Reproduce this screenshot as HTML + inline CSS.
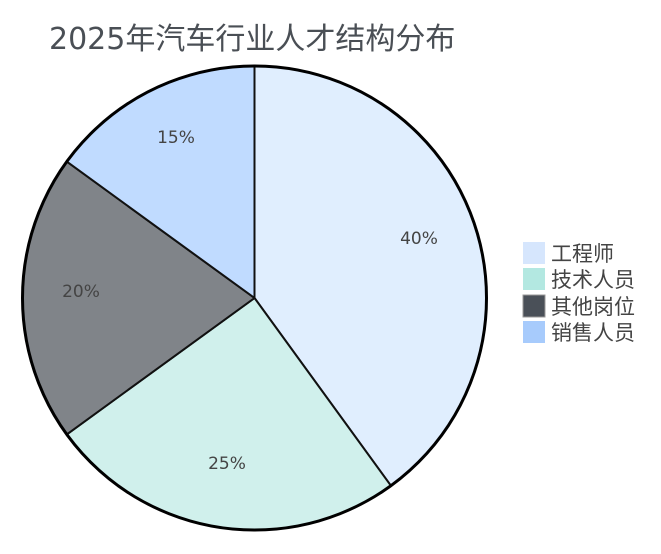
<!DOCTYPE html>
<html><head><meta charset="utf-8"><style>
body{margin:0;background:#fff;width:661px;height:549px;overflow:hidden}
</style></head><body>
<svg width="661" height="549" xmlns="http://www.w3.org/2000/svg" font-family="DejaVu Sans, Noto Sans CJK SC, sans-serif">
<text x="49" y="49" font-size="30" fill="#4a4f55">2025年汽车行业人才结构分布</text>
<g stroke="#111" stroke-width="2" stroke-linejoin="round">
<path d="M254.5,298 L254.5,66 A232,232 0 0,1 390.9,485.7 Z" fill="#e0eefe"/>
<path d="M254.5,298 L390.9,485.7 A232,232 0 0,1 66.8,434.4 Z" fill="#d0f0ec"/>
<path d="M254.5,298 L66.8,434.4 A232,232 0 0,1 66.8,161.6 Z" fill="#808489"/>
<path d="M254.5,298 L66.8,161.6 A232,232 0 0,1 254.5,66 Z" fill="#c0dbff"/>
</g>
<circle cx="254.5" cy="298" r="232" fill="none" stroke="#000" stroke-width="3"/>
<g font-size="17" fill="#444" text-anchor="middle">
<text x="419" y="244">40%</text>
<text x="227" y="469">25%</text>
<text x="81" y="297">20%</text>
<text x="176" y="143">15%</text>
</g>
<rect x="523" y="242" width="22" height="22" fill="#d6e6fd"/>
<rect x="523" y="268" width="22" height="22" fill="#b3e8e1"/>
<rect x="523" y="295" width="22" height="22" fill="#4a5058" stroke="#999"/>
<rect x="523" y="321" width="22" height="22" fill="#a7cbfc"/>
<g font-size="21" fill="#444">
<text x="551" y="261">工程师</text>
<text x="551" y="287">技术人员</text>
<text x="551" y="314">其他岗位</text>
<text x="551" y="340">销售人员</text>
</g>
</svg>
</body></html>
